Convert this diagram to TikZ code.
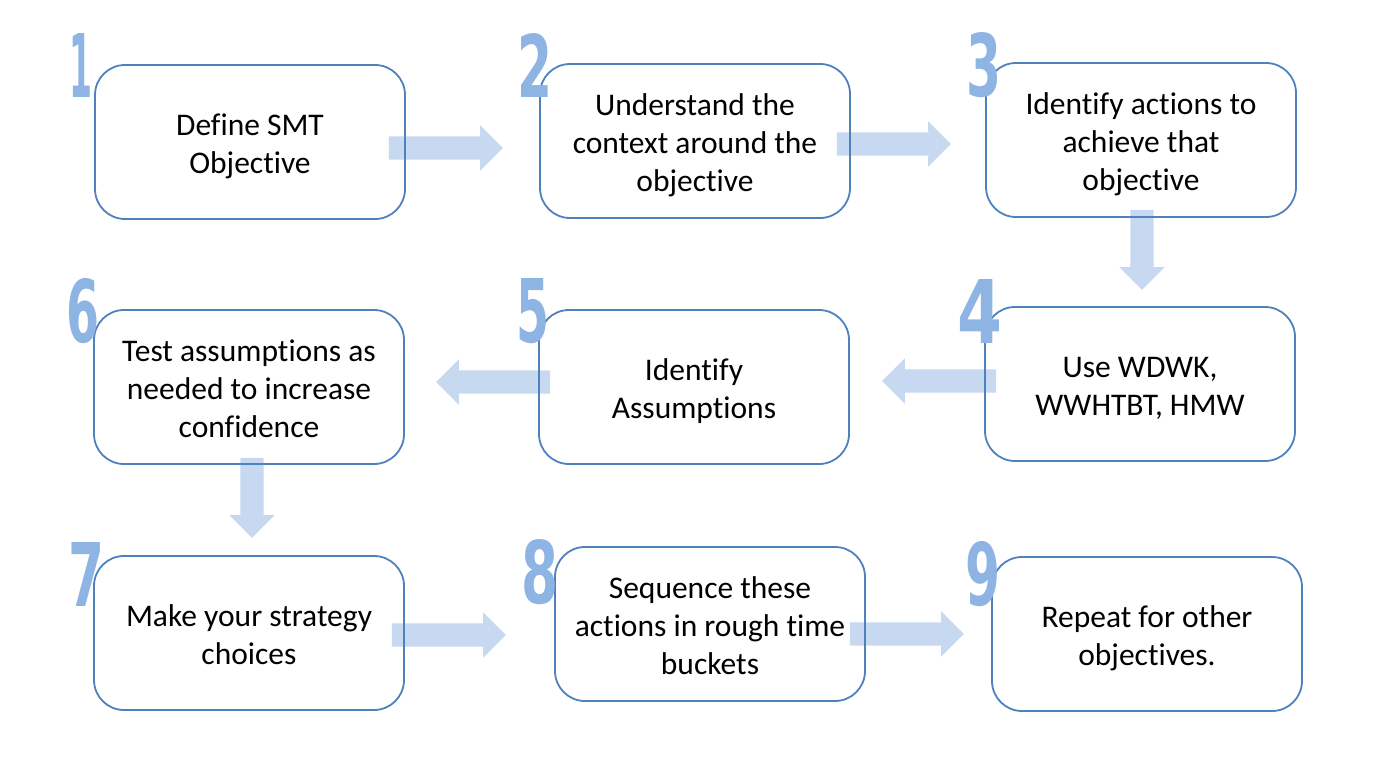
\documentclass[tikz,border=0pt]{standalone}
\usepackage{fontspec}
\setmainfont{Carlito}[Ligatures=NoCommon]
\newfontfamily\numfont{DejaVu Sans}
\usetikzlibrary{shapes.arrows}
\definecolor{boxblue}{HTML}{4F81BD}
\definecolor{numblue}{HTML}{8DB4E2}
\definecolor{arrowblue}{HTML}{C6D9F1}
\newcommand{\stepnum}[2]{\resizebox{#1pt}{64pt}{\numfont\bfseries #2}}
\newcommand{\steptext}[1]{\raisebox{-5pt}[\height][\depth]{\begin{tabular}{@{}c@{}}#1\end{tabular}}}
\tikzset{
  task/.style={draw=boxblue, line width=1.8pt, rounded corners=30pt,
    minimum width=310pt, minimum height=154pt,
    font=\fontsize{31.5}{38}\selectfont},
  flow/.style={single arrow, fill=arrowblue, draw=none,
    inner xsep=0pt, inner ysep=11.5pt, minimum width=0pt,
    minimum height=114pt,
    single arrow head extend=11pt, single arrow head indent=0pt},
  num/.style={text=numblue, inner sep=0pt}
}
\begin{document}
\begin{tikzpicture}[x=1pt,y=-1pt]
  \useasboundingbox (0,0) rectangle (1390,784);
  % block arrows behind the boxes
  \node[flow] (f12) at (440,148) {};
  \node[flow] (f23) at (888,144) {};
  \node[flow, rotate=-90, minimum height=80pt] (f34) at (1142,244) {};
  \node[flow, rotate=180] (f45) at (945,381) {};
  \node[flow, rotate=180] (f56) at (499,382) {};
  \node[flow, rotate=-90, minimum height=80pt] (f67) at (252,492) {};
  \node[flow] (f78) at (443,635) {};
  \node[flow] (f89) at (901,634) {};

  % steps
  \node[task] (s1) at (250,142) {\steptext{Define SMT\\Objective}};
  \node[task] (s2) at (695,141) {\steptext{Understand the\\context around the\\objective}};
  \node[task] (s3) at (1141,140) {\steptext{Identify actions to\\achieve that\\objective}};
  \node[task] (s4) at (1140,384) {\steptext{Use WDWK,\\WWHTBT, HMW}};
  \node[task] (s5) at (694,387) {\steptext{Identify\\Assumptions}};
  \node[task] (s6) at (249,387) {\steptext{Test assumptions as\\needed to increase\\confidence}};
  \node[task] (s7) at (249,633) {\steptext{Make your strategy\\choices}};
  \node[task] (s8) at (710,624) {\steptext{Sequence these\\actions in rough time\\buckets}};
  \node[task] (s9) at (1147,634) {\steptext{Repeat for other\\objectives.}};

  % step numbers
  \node[num] (n1) at (81,65) {\stepnum{23}{1}};
  \node[num] (n2) at (535,65) {\stepnum{35}{2}};
  \node[num] (n3) at (984,65) {\stepnum{35}{3}};
  \node[num] (n4) at (980,311) {\stepnum{45}{4}};
  \node[num] (n5) at (533,311) {\stepnum{33}{5}};
  \node[num] (n6) at (83,311) {\stepnum{33}{6}};
  \node[num] (n7) at (87,574) {\stepnum{36}{7}};
  \node[num] (n8) at (540,572) {\stepnum{37}{8}};
  \node[num] (n9) at (983,574) {\stepnum{35}{9}};
\end{tikzpicture}
\end{document}
